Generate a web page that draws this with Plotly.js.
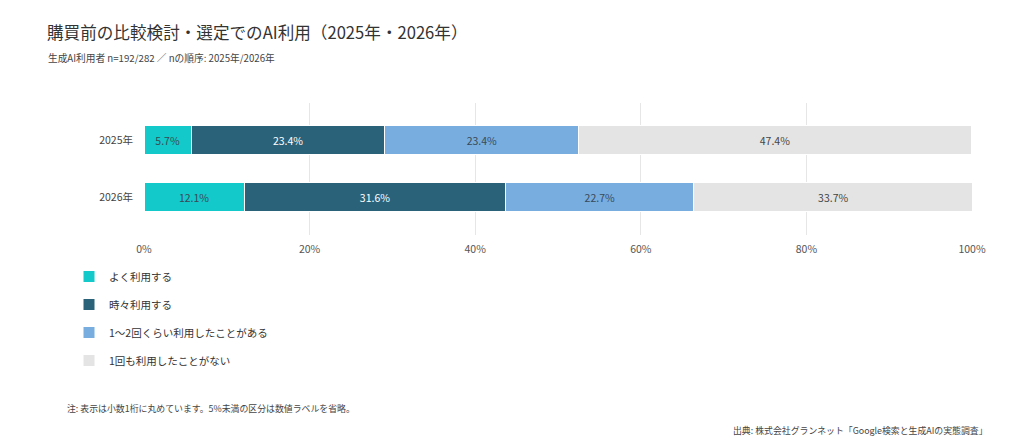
<!DOCTYPE html>
<html>
<head>
<meta charset="utf-8">
<script src="https://cdn.plot.ly/plotly-3.0.1.min.js"></script>
<style>
  html, body { margin: 0; padding: 0; background: #fff; }
  #chart { width: 1024px; height: 448px; }
</style>
</head>
<body>
<div id="chart"></div>
<script>
const years = ["2025年", "2026年"];
const seriesNames = ["よく利用する", "時々利用する", "1〜2回くらい利用したことがある", "1回も利用したことがない"];
const often = [5.7, 12.1];
const sometimes = [23.4, 31.6];
const onceOrTwice = [23.4, 22.7];
const never = [47.4, 33.7];
const xTicks = [0, 20, 40, 60, 80, 100];
const xTickLabels = ["0%", "20%", "40%", "60%", "80%", "100%"];

const colors = ["#13c9c9", "#2a6279", "#78ade0", "#e4e4e4"];
const textColors = ["#3a4a55", "#ffffff", "#3a4a55", "#444444"];
const font = "'Noto Sans CJK JP', 'Noto Sans', sans-serif";

const allValues = [often, sometimes, onceOrTwice, never];

// one legend group per trace so tracegroupgap spaces the legend rows
const data = allValues.map((vals, i) => ({
  type: "bar",
  orientation: "h",
  name: seriesNames[i],
  legendgroup: "g" + i,
  y: years,
  x: vals,
  width: 0.51,
  marker: { color: colors[i], line: { color: "#ffffff", width: 1 } },
  text: vals.map((v) => (v >= 5 ? v.toFixed(1) + "%" : "")),
  textposition: "inside",
  insidetextanchor: "middle",
  constraintext: "none",
  insidetextfont: { family: font, size: 10.5, color: textColors[i] },
  hoverinfo: "none",
}));

const layout = {
  width: 1024,
  height: 448,
  margin: { l: 144, r: 52, t: 103, b: 213 },
  paper_bgcolor: "#ffffff",
  plot_bgcolor: "#ffffff",
  barmode: "stack",
  font: { family: font, color: "#444" },
  title: {
    text: "購買前の比較検討・選定でのAI利用（2025年・2026年）",
    font: { family: font, size: 16.6, color: "#333" },
    x: 47 / 1024,
    xanchor: "left",
    xref: "container",
    y: 1 - 33 / 448,
    yanchor: "middle",
    yref: "container",
  },
  xaxis: {
    range: [0, 100],
    tickmode: "array",
    tickvals: xTicks,
    ticktext: xTickLabels,
    showgrid: true,
    gridcolor: "#e6e6e6",
    gridwidth: 1,
    zeroline: false,
    showline: false,
    ticks: "",
    ticklabelstandoff: 6,
    tickfont: { family: font, size: 10.5, color: "#555" },
    fixedrange: true,
  },
  yaxis: {
    type: "category",
    range: [1.66, -0.65],
    showgrid: false,
    zeroline: false,
    showline: false,
    ticks: "",
    ticklabelstandoff: 10,
    tickfont: { family: font, size: 10.5, color: "#444" },
    fixedrange: true,
  },
  showlegend: true,
  legend: {
    orientation: "v",
    traceorder: "grouped",
    x: (69 - 144) / 828,
    xanchor: "left",
    y: (235 - 262) / 132,
    yanchor: "top",
    tracegroupgap: 9,
    font: { family: font, size: 10.5, color: "#333" },
    bgcolor: "rgba(0,0,0,0)",
  },
  annotations: [
    {
      text: "生成AI利用者 n=192/282 ／ nの順序: 2025年/2026年",
      xref: "paper", yref: "paper",
      x: (46 - 144) / 828, xanchor: "left",
      y: (235 - 58) / 132, yanchor: "middle",
      showarrow: false,
      font: { family: font, size: 9.7, color: "#444" },
    },
    {
      text: "注: 表示は小数1桁に丸めています。5%未満の区分は数値ラベルを省略。",
      xref: "paper", yref: "paper",
      x: (65 - 144) / 828, xanchor: "left",
      y: (235 - 408) / 132, yanchor: "middle",
      showarrow: false,
      font: { family: font, size: 8.9, color: "#444" },
    },
    {
      text: "出典: 株式会社グランネット「Google検索と生成AIの実態調査」",
      xref: "paper", yref: "paper",
      x: (990 - 144) / 828, xanchor: "right",
      y: (235 - 430) / 132, yanchor: "middle",
      showarrow: false,
      font: { family: font, size: 8.9, color: "#444" },
    },
  ],
};

Plotly.newPlot("chart", data, layout, { displayModeBar: false, staticPlot: true });
</script>
</body>
</html>
